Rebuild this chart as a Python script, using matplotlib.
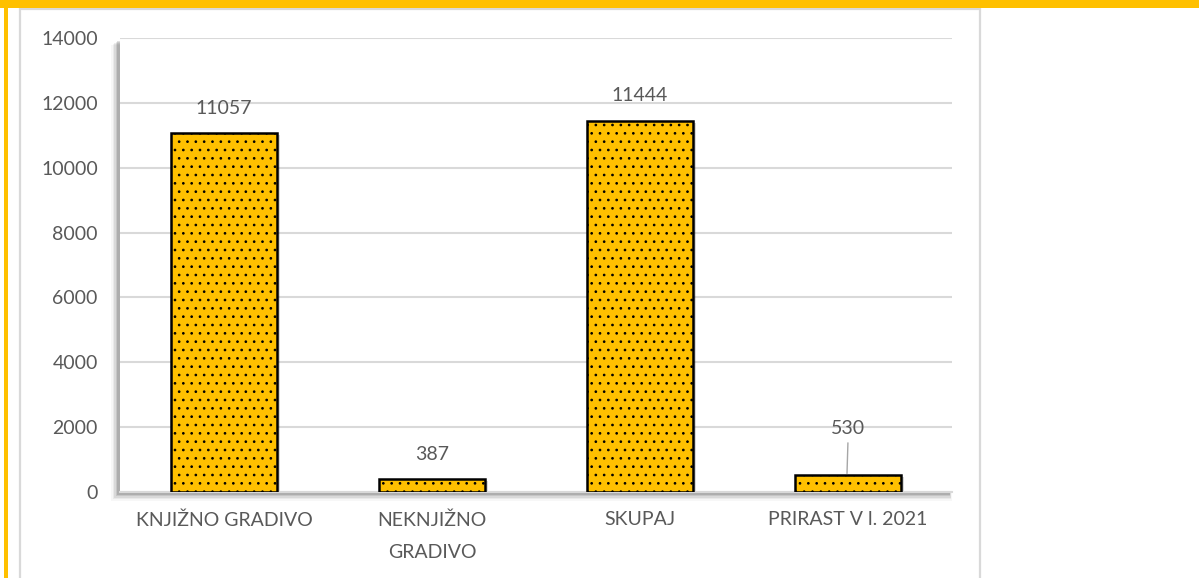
import matplotlib.pyplot as plt
import matplotlib.patches as mpatches
import numpy as np

categories = ["KNJIŽNO GRADIVO", "NEKNJIŽNO\nGRADIVO", "SKUPAJ", "PRIRAST V l. 2021"]
values = [11057, 387, 11444, 530]
yticks = [0, 2000, 4000, 6000, 8000, 10000, 12000, 14000]

plt.rcParams['font.family'] = ['Lato', 'DejaVu Sans']
plt.rcParams['hatch.linewidth'] = 0.7
plt.rcParams['hatch.color'] = '#262626'

W, H = 1199, 578
fig = plt.figure(figsize=(W / 100, H / 100), dpi=100)
fig.patch.set_facecolor('white')

def px_rect(x0, y0, x1, y1, **kw):
    # rectangle given in pixel coords measured from the top-left corner
    return mpatches.Rectangle((x0 / W, 1 - y1 / H), (x1 - x0) / W, (y1 - y0) / H,
                              transform=fig.transFigure, **kw)

# page decoration: yellow bands and light grey frame
fig.add_artist(px_rect(0, 0, W, 8, facecolor='#FFC000', edgecolor='none', zorder=5))
fig.add_artist(px_rect(4, 0, 8, H, facecolor='#FFC000', edgecolor='none', zorder=5))
fig.add_artist(px_rect(20, 9, 980, H + 5, facecolor='none', edgecolor='#d9d9d9',
                       linewidth=1.6, zorder=4))

# soft shadow behind the plot area
left, top, right, bottom = 120, 38, 952, 492
for i, a in enumerate([0.03, 0.05, 0.07, 0.09, 0.12]):
    d = 9 - i * 1.6
    fig.add_artist(px_rect(left - d, top + 2 + (5 - i), right - 3 + (5 - i) * 0.5, bottom + d,
                           facecolor='black', edgecolor='none', alpha=a, zorder=-2))

ax = fig.add_axes([left / W, 1 - bottom / H, (right - left) / W, (bottom - top) / H])
ax.set_facecolor('white')
ax.set_zorder(1)

x = np.arange(len(categories))

# bar shadows, nudged right and down
shadow = ax.bar(x + 0.012, values, width=0.51, color='black', alpha=0.15,
                bottom=-60, zorder=2, linewidth=0)
bars = ax.bar(x, values, width=0.51, color='#FFC000', edgecolor='black',
              linewidth=1.8, hatch='..', zorder=3)

ax.set_xlim(-0.5, len(categories) - 0.5)
ax.set_ylim(0, 14000)
ax.set_yticks(yticks)
ax.set_xticks(x)
ax.set_xticklabels(categories, linespacing=2.1)
ax.tick_params(axis='y', length=0, pad=16, labelsize=14, labelcolor='#595959')
ax.tick_params(axis='x', length=0, pad=14, labelsize=14, labelcolor='#595959')
ax.grid(axis='y', color='#d9d9d9', linewidth=1.5, zorder=0)
ax.set_axisbelow(True)
for s in ['top', 'right', 'left']:
    ax.spines[s].set_visible(False)
ax.spines['bottom'].set_color('#d9d9d9')
ax.spines['bottom'].set_linewidth(1.5)

for i, v in enumerate(values):
    if i == 3:
        ax.annotate(str(v), xy=(x[i] - 0.005, v), xytext=(1, 27), textcoords='offset points',
                    ha='center', va='bottom', fontsize=14, color='#595959',
                    arrowprops=dict(arrowstyle='-', color='#a6a6a6', lw=1.0,
                                    shrinkA=2, shrinkB=1))
    else:
        ax.annotate(str(v), xy=(x[i], v), xytext=(0, 12), textcoords='offset points',
                    ha='center', va='bottom', fontsize=14, color='#595959')

fig.savefig('out.png', dpi=100)
